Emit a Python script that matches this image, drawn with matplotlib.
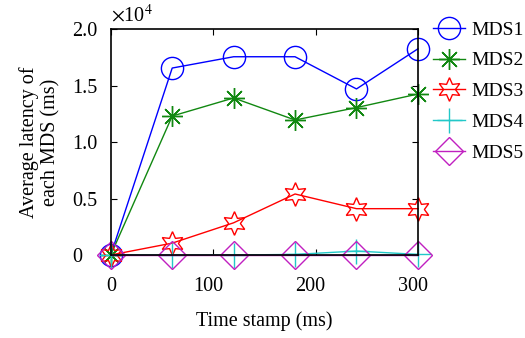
import matplotlib
matplotlib.use("Agg")
import matplotlib.pyplot as plt
import matplotlib.transforms as mtransforms
from matplotlib.ticker import FuncFormatter

time_ms = [0, 60, 120, 180, 240, 300]
mds1 = [0, 16550, 17550, 17550, 14700, 18250]
mds2 = [0, 12300, 13900, 11950, 13050, 14250]
mds3 = [0, 1050, 2850, 5400, 4100, 4100]
mds4 = [0, 0, 0, 50, 350, 50]
mds5 = [0, 0, 0, 0, 0, 0]
labels = ["MDS1", "MDS2", "MDS3", "MDS4", "MDS5"]

plt.rcParams['font.family'] = ['Liberation Serif', 'DejaVu Serif']
plt.rcParams['mathtext.fontset'] = 'stix'

fig = plt.figure(figsize=(5.25, 3.38), dpi=100)
ax = fig.add_axes([0.211, 0.2456, 0.585, 0.6684])

styles = [
    dict(color='#0000ff', marker='o', ms=16, mfc='none'),
    dict(color='#118811', marker=(8, 2, 0), ms=15),
    dict(color='#ff0000', marker=(6, 1, 0), ms=17, mfc='none'),
    dict(color='#22c8c8', marker='+', ms=18),
    dict(color='#c020c0', marker='D', ms=14, mfc='none'),
]
series = [mds1, mds2, mds3, mds4, mds5]
for s, lab, st in zip(series, labels, styles):
    ax.plot(time_ms, s, label=lab, lw=1.0, mew=1.0, clip_on=False, **st)

ax.set_xlim(0, 300)
ax.set_ylim(0, 20000)
ax.set_xticks([0, 100, 200, 300])
ax.set_yticks([0, 5000, 10000, 15000, 20000])
ax.yaxis.set_major_formatter(FuncFormatter(lambda v, p: "0" if abs(v) < 1e-6 else f"{v/1e4:.1f}"))
ax.tick_params(direction='in', top=True, right=True, labelsize=14.5, length=4, width=0.8)
ax.tick_params(axis='x', pad=16)
ax.tick_params(axis='y', pad=27.5)
for lbl in ax.get_yticklabels():
    lbl.set_horizontalalignment('left')
shift = mtransforms.ScaledTranslation(-5/100, 0, fig.dpi_scale_trans)
for lbl in ax.get_xticklabels()[1:]:
    lbl.set_transform(lbl.get_transform() + shift)
for sp in ax.spines.values():
    sp.set_linewidth(1.2)
ax.text(0.0, 1.01, r"$\times$10$^4$", transform=ax.transAxes, fontsize=14.5, ha='left', va='bottom')

ax.set_xlabel("Time stamp (ms)", fontsize=14.5, labelpad=11)
ax.set_ylabel("Average latency of\neach MDS (ms)", fontsize=14.5, labelpad=8.5)

fig.legend(loc='upper left', bbox_to_anchor=(433/525, 1 - 21/338), frameon=False, fontsize=14,
           handlelength=1.65, handletextpad=0.3, labelspacing=0.68, borderaxespad=0, borderpad=0)

fig.savefig("out.png", dpi=100)
